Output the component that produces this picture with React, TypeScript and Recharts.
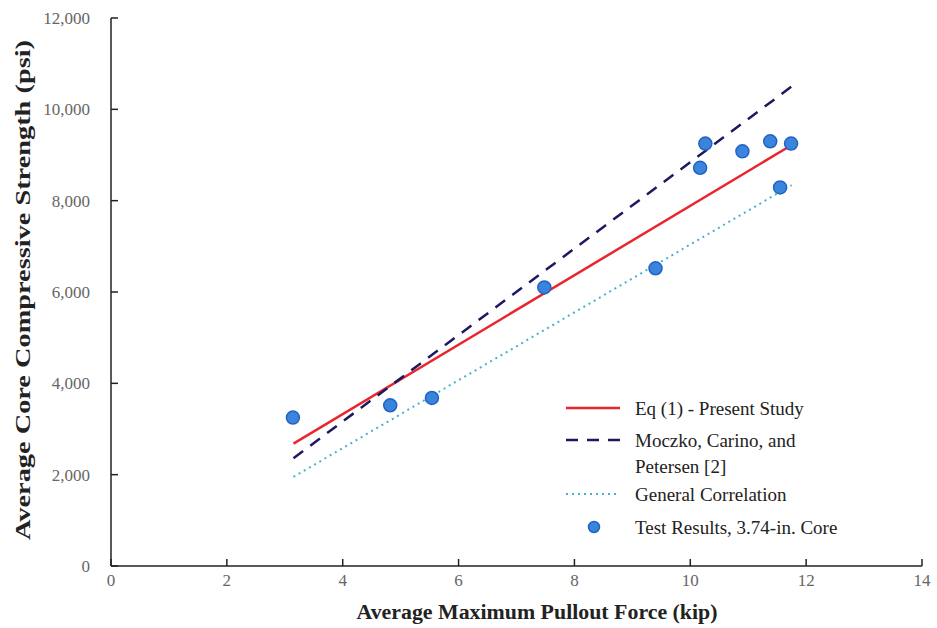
import React from 'react'
import { ComposedChart, Line, Scatter, XAxis, YAxis } from 'recharts'

// test results, 3.74-in. cores
const pulloutKip = [3.14, 4.82, 5.54, 7.48, 9.4, 10.17, 10.26, 10.9, 11.38, 11.55, 11.74]
const coreStrengthPsi = [3250, 3520, 3680, 6100, 6520, 8720, 9250, 9080, 9300, 8290, 9250]

// correlation lines (end points)
const eqX = [3.15, 11.7]
const eqY = [2680, 9180]
const moczkoX = [3.15, 11.75]
const moczkoY = [2360, 10500]
const generalX = [3.15, 11.75]
const generalY = [1950, 8340]

const xTicks = [0, 2, 4, 6, 8, 10, 12, 14]
const yTicks = [0, 2000, 4000, 6000, 8000, 10000, 12000]

const legendLabels = [
  'Eq (1) - Present Study',
  'Moczko, Carino, and',
  'Petersen [2]',
  'General Correlation',
  'Test Results, 3.74-in. Core',
]

const RED = '#e8262b'
const NAVY = '#1d1960'
const CYAN = '#45b2c8'
const BLUE = '#3a84dc'
const SERIF = '"Liberation Serif", "Times New Roman", serif'

const zip = (xs: number[], ys: number[]) => xs.map((x, i) => ({ x, y: ys[i] }))

const points = zip(pulloutKip, coreStrengthPsi)
const eqLine = zip(eqX, eqY)
const moczkoLine = zip(moczkoX, moczkoY)
const generalLine = zip(generalX, generalY)

// ticks point inward, labels sit outside
const XTick = ({ x, y, payload }: any) => (
  <g>
    <line x1={x} x2={x} y1={y - 6} y2={y - 13} stroke="#222" strokeWidth={1.5} />
    <text x={x} y={y} dy="0.8em" textAnchor="middle" fontFamily={SERIF} fontSize={17} fill="#666">
      {payload.value}
    </text>
  </g>
)

const YTick = ({ x, y, payload }: any) => (
  <g>
    <line x1={x + 21} x2={x + 28} y1={y} y2={y} stroke="#222" strokeWidth={1.5} />
    <text x={x} y={y} dy="0.35em" textAnchor="end" fontFamily={SERIF} fontSize={17} fill="#666">
      {Number(payload.value).toLocaleString('en-US')}
    </text>
  </g>
)

const Dot = ({ cx, cy }: any) => (
  <circle cx={cx} cy={cy} r={6.5} fill={BLUE} stroke="#2163c4" strokeWidth={1.5} />
)

export default function App() {
  return (
    <div style={{ position: 'absolute', left: 0, top: 0, width: 937, height: 628, background: '#fff' }}>
      <ComposedChart width={937} height={628} margin={{ top: 18, right: 15, bottom: 0, left: 0 }}>
        <XAxis
          type="number"
          dataKey="x"
          domain={[0, 14]}
          ticks={xTicks}
          interval={0}
          height={62}
          tickSize={0}
          tickMargin={6}
          tick={<XTick />}
          axisLine={{ stroke: '#222', strokeWidth: 1.5 }}
          tickLine={false}
        />
        <YAxis
          type="number"
          dataKey="y"
          domain={[0, 12000]}
          ticks={yTicks}
          interval={0}
          width={111}
          tickSize={0}
          tickMargin={21}
          tick={<YTick />}
          axisLine={{ stroke: '#222', strokeWidth: 1.5 }}
          tickLine={false}
        />
        <Line
          data={eqLine}
          dataKey="y"
          type="linear"
          stroke={RED}
          strokeWidth={2.5}
          dot={false}
          activeDot={false}
          isAnimationActive={false}
        />
        <Line
          data={moczkoLine}
          dataKey="y"
          type="linear"
          stroke={NAVY}
          strokeWidth={2.5}
          strokeDasharray="12 9"
          dot={false}
          activeDot={false}
          isAnimationActive={false}
        />
        <Line
          data={generalLine}
          dataKey="y"
          type="linear"
          stroke={CYAN}
          strokeWidth={2}
          strokeDasharray="2 4"
          dot={false}
          activeDot={false}
          isAnimationActive={false}
        />
        <Scatter data={points} dataKey="y" shape={<Dot />} isAnimationActive={false} />
      </ComposedChart>
      <svg
        width={937}
        height={628}
        style={{ position: 'absolute', left: 0, top: 0, pointerEvents: 'none' }}
      >
        {/* legend */}
        <g transform="translate(560, 395)" fontFamily={SERIF} fontSize={19} fill="#222">
          <line x1={6} x2={60} y1={13} y2={13} stroke={RED} strokeWidth={2.5} />
          <text x={75} y={13} dy="0.35em">{legendLabels[0]}</text>

          <line x1={6} x2={60} y1={45} y2={45} stroke={NAVY} strokeWidth={2.5} strokeDasharray="12 9" />
          <text x={75} y={45} dy="0.35em">{legendLabels[1]}</text>
          <text x={75} y={71} dy="0.35em">{legendLabels[2]}</text>

          <line x1={6} x2={60} y1={99} y2={99} stroke={CYAN} strokeWidth={2} strokeDasharray="2 4" />
          <text x={75} y={99} dy="0.35em">{legendLabels[3]}</text>

          <circle cx={34} cy={132} r={5.5} fill={BLUE} stroke="#2163c4" strokeWidth={1.5} />
          <text x={75} y={132} dy="0.35em">{legendLabels[4]}</text>
        </g>

        <text
          x={537}
          y={612}
          dy="0.35em"
          textAnchor="middle"
          fontFamily={SERIF}
          fontWeight="bold"
          fontSize={20}
          fill="#222"
          textLength={361}
          lengthAdjust="spacingAndGlyphs"
        >
          Average Maximum Pullout Force (kip)
        </text>
        <text
          transform="translate(23, 290) rotate(-90)"
          dy="0.35em"
          textAnchor="middle"
          fontFamily={SERIF}
          fontWeight="bold"
          fontSize={20}
          fill="#222"
          textLength={500}
          lengthAdjust="spacingAndGlyphs"
        >
          Average Core Compressive Strength (psi)
        </text>
      </svg>
    </div>
  )
}
